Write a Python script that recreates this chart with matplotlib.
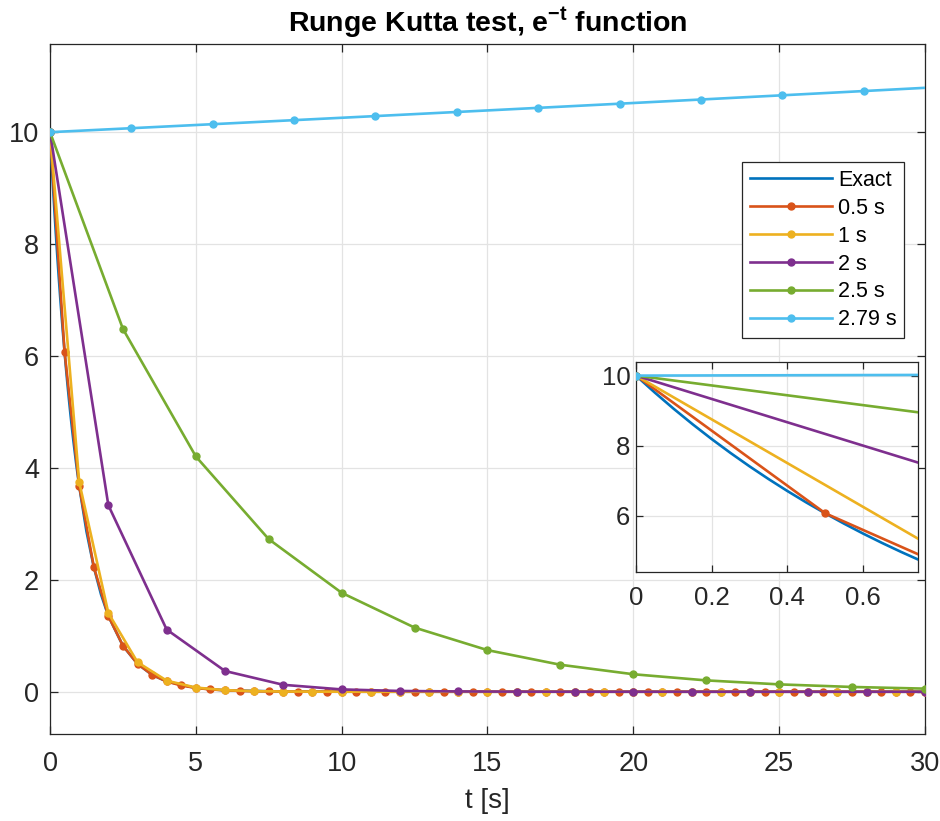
import numpy as np
import matplotlib
matplotlib.use("Agg")
import matplotlib.pyplot as plt

plt.rcParams['font.family'] = ['Liberation Sans', 'DejaVu Sans']
plt.rcParams['mathtext.fontset'] = 'custom'
plt.rcParams['mathtext.rm'] = 'Liberation Sans'
plt.rcParams['mathtext.it'] = 'Liberation Sans'
plt.rcParams['mathtext.bf'] = 'Liberation Sans:bold'

# ---------------- data ----------------
labels = ["Exact", "0.5 s", "1 s", "2 s", "2.5 s", "2.79 s"]
colors = ["#0072BD", "#D95319", "#EDB120", "#7E2F8E", "#77AC30", "#4DBEEE"]

t_exact = [0, 0.05, 0.1, 0.15, 0.2, 0.25, 0.3, 0.35, 0.4, 0.45, 0.5, 0.55, 0.6, 0.65,
           0.7, 0.75, 0.8, 0.9, 1.0, 1.25, 1.5, 1.75, 2.0, 2.5, 3.0, 3.5, 4, 5, 6, 8,
           10, 15, 20, 30]
y_exact = [10.0, 9.5123, 9.0484, 8.6071, 8.1873, 7.7880, 7.4082, 7.0469, 6.7032, 6.3763,
           6.0653, 5.7695, 5.4881, 5.2205, 4.9659, 4.7237, 4.4933, 4.0657, 3.6788, 2.8650,
           2.2313, 1.7377, 1.3534, 0.8208, 0.4979, 0.3020, 0.1832, 0.0674, 0.0248, 0.0034,
           0.0005, 0.0, 0.0, 0.0]

h_05 = 0.5
y_05 = [10.0, 6.0677, 3.6817, 2.2340, 1.3555, 0.8225, 0.4991, 0.3028, 0.1837, 0.1115,
        0.0677, 0.0410, 0.0249, 0.0151, 0.0092, 0.0056, 0.0034, 0.0020, 0.0012, 0.0008,
        0.0005, 0.0003, 0.0002, 0.0001, 0.0001, 0.0, 0.0, 0.0, 0.0, 0.0,
        0.0, 0.0, 0.0, 0.0, 0.0, 0.0, 0.0, 0.0, 0.0, 0.0,
        0.0, 0.0, 0.0, 0.0, 0.0, 0.0, 0.0, 0.0, 0.0, 0.0,
        0.0, 0.0, 0.0, 0.0, 0.0, 0.0, 0.0, 0.0, 0.0, 0.0, 0.0]

h_1 = 1.0
y_1 = [10.0, 3.75, 1.4063, 0.5273, 0.1978, 0.0742, 0.0278, 0.0104, 0.0039, 0.0015,
       0.0005, 0.0002, 0.0001, 0.0, 0.0, 0.0, 0.0, 0.0, 0.0, 0.0,
       0.0, 0.0, 0.0, 0.0, 0.0, 0.0, 0.0, 0.0, 0.0, 0.0, 0.0]

h_2 = 2.0
y_2 = [10.0, 3.3333, 1.1111, 0.3704, 0.1235, 0.0412, 0.0137, 0.0046, 0.0015, 0.0005,
       0.0002, 0.0001, 0.0, 0.0, 0.0, 0.0]

h_25 = 2.5
y_25 = [10.0, 6.4844, 4.2047, 2.7265, 1.7680, 1.1464, 0.7434, 0.4820, 0.3126, 0.2027,
        0.1314, 0.0852, 0.0553]

h_279 = 2.79
y_279 = [10.0, 10.0712, 10.1429, 10.2151, 10.2878, 10.3610, 10.4348, 10.5091, 10.5839,
         10.6593, 10.7351, 10.8116]

steps = [h_05, h_1, h_2, h_25, h_279]
series = [y_05, y_1, y_2, y_25, y_279]

# ---------------- figure ----------------
fig = plt.figure(figsize=(9.4, 8.21), dpi=100)
ax = fig.add_axes([0.0532, 0.106, 0.9308, 0.840])
axin = fig.add_axes([0.6766, 0.3029, 0.3003, 0.2558])

axis_col = "#262626"
grid_col = "#e3e3e3"

for a in (ax, axin):
    a.plot(t_exact, y_exact, color=colors[0], lw=1.9, label=labels[0], zorder=3)
    for h, ys, c, lab in zip(steps, series, colors[1:], labels[1:]):
        ts = np.arange(len(ys)) * h
        a.plot(ts, ys, color=c, lw=1.9, marker='o', ms=5, label=lab, zorder=3)
    a.grid(True, color=grid_col, lw=0.9)
    a.set_axisbelow(True)
    a.tick_params(direction='in', top=True, right=True, colors=axis_col,
                  labelcolor=axis_col, length=6, width=0.9)
    for s in a.spines.values():
        s.set_color(axis_col)
        s.set_linewidth(0.9)

ax.set_xlim(0, 30)
ax.set_ylim(-0.755, 11.57)
ax.set_xticks([0, 5, 10, 15, 20, 25, 30])
ax.set_yticks([0, 2, 4, 6, 8, 10])
ax.tick_params(labelsize=19.5)
ax.tick_params(axis='x', pad=12)
ax.tick_params(axis='y', pad=8)
ax.set_xlabel("t [s]", fontsize=20, color=axis_col, labelpad=8)
ax.set_title(r"Runge Kutta test, e$^{\mathbf{-t}}$ function", fontsize=20.5,
             fontweight='bold', color='black', pad=9)

axin.set_xlim(0, 0.746)
axin.set_ylim(4.38, 10.38)
axin.set_xticks([0, 0.2, 0.4, 0.6])
axin.set_xticklabels(["0", "0.2", "0.4", "0.6"])
axin.set_yticks([6, 8, 10])
axin.tick_params(labelsize=18.5, length=5)
axin.tick_params(axis='x', pad=10)
axin.tick_params(axis='y', pad=4)

handles, labs = ax.get_legend_handles_labels()
leg = ax.legend(handles, labs, loc='upper right',
                bbox_to_anchor=(904.3 / 940, 1 - 162.3 / 821),
                bbox_transform=fig.transFigure, fontsize=15.5, frameon=True,
                fancybox=False, edgecolor=axis_col, framealpha=1,
                handlelength=3.8, borderpad=0.35, labelspacing=0.32,
                handletextpad=0.3, borderaxespad=0)
leg.get_frame().set_linewidth(0.9)
leg.set_zorder(10)

fig.savefig("out.png", dpi=100, facecolor='white')
